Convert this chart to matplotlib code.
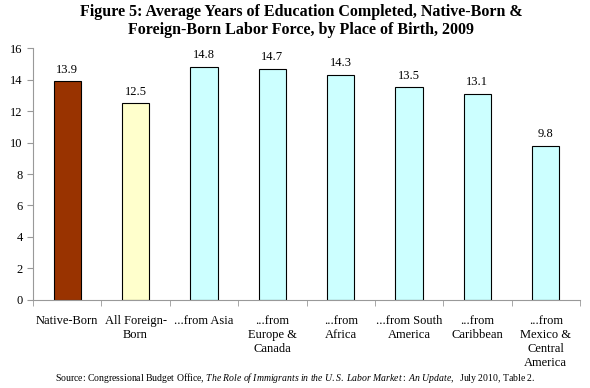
import matplotlib.pyplot as plt
import numpy as np

plt.rcParams["font.family"] = ["Liberation Serif", "DejaVu Serif"]
plt.rcParams["mathtext.fontset"] = "custom"
plt.rcParams["mathtext.rm"] = "Liberation Serif"
plt.rcParams["mathtext.it"] = "Liberation Serif:italic"

categories = [
    "Native-Born",
    "All Foreign-\nBorn",
    "...from Asia",
    "...from\nEurope &\nCanada",
    "...from\nAfrica",
    "...from South\nAmerica",
    "...from\nCaribbean",
    "...from\nMexico &\nCentral\nAmerica",
]
years = [13.9, 12.5, 14.8, 14.7, 14.3, 13.5, 13.1, 9.8]
colors = ["#993300", "#FFFFCC"] + ["#CCFFFF"] * 6


def main() -> None:
    fig = plt.figure(figsize=(5.9, 3.88), dpi=100)
    ax = fig.add_axes([0.056, 0.227, 0.927, 0.649])

    x = np.arange(len(categories))
    bars = ax.bar(x, years, width=0.4, color=colors, edgecolor="black", linewidth=0.8)
    for b, v in zip(bars, years):
        ax.text(b.get_x() + b.get_width() / 2, v + 0.35, f"{v:.1f}",
                ha="center", va="bottom", fontsize=9)

    ax.set_xlim(-0.5, len(categories) - 0.5)
    ax.set_ylim(0, 16)
    ax.set_yticks(range(0, 17, 2))
    ax.set_xticks(x)
    ax.set_xticklabels(categories, fontsize=9, linespacing=1.2)
    ax.set_xticks(np.arange(-0.5, len(categories), 1.0), minor=True)
    ax.tick_params(axis="x", which="major", length=0, pad=11)
    ax.tick_params(axis="x", which="minor", length=4, color="#999999")
    ax.tick_params(axis="y", length=4, color="#999999", labelsize=9)

    for side in ("top", "right"):
        ax.spines[side].set_visible(False)
    for side in ("left", "bottom"):
        ax.spines[side].set_color("#999999")
        ax.spines[side].set_linewidth(0.8)

    fig.text(0.51, 0.99,
             "Figure 5: Average Years of Education Completed, Native-Born &\n"
             "Foreign-Born Labor Force, by Place of Birth, 2009",
             ha="center", va="top", fontsize=11.5, fontweight="bold", linespacing=1.15)

    fig.text(0.5, 0.025,
             "Source: Congressional Budget Office, "
             "$\\it{The\\ Role\\ of\\ Immigrants\\ in\\ the\\ U.S.\\ Labor\\ Market{:}\\ An\\ Update,}$"
             "  July 2010, Table 2.",
             ha="center", va="center", fontsize=7)

    fig.savefig("out.png", dpi=100)


if __name__ == "__main__":
    main()
